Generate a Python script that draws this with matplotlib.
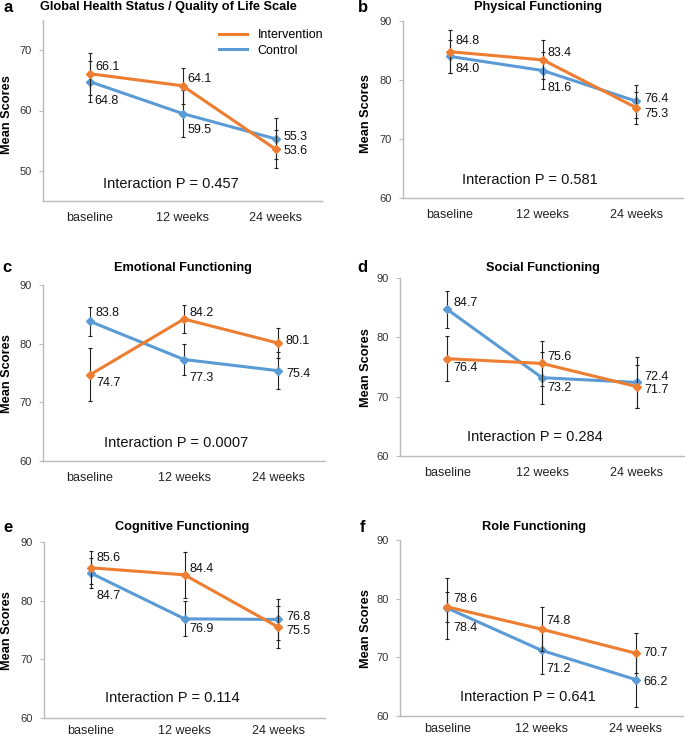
import matplotlib
matplotlib.use('Agg')
import matplotlib.pyplot as plt
from matplotlib.lines import Line2D

plt.rcParams['font.family'] = ['Liberation Sans', 'DejaVu Sans']

W, H = 685, 738

timepoints = ['baseline', '12 weeks', '24 weeks']
letters = ['a', 'b', 'c', 'd', 'e', 'f']
titles = ['Global Health Status / Quality of Life Scale', 'Physical Functioning',
          'Emotional Functioning', 'Social Functioning',
          'Cognitive Functioning', 'Role Functioning']

intervention_means = [[66.1, 64.1, 53.6], [84.8, 83.4, 75.3], [74.7, 84.2, 80.1],
                      [76.4, 75.6, 71.7], [85.6, 84.4, 75.5], [78.6, 74.8, 70.7]]
intervention_err = [[3.5, 3.0, 3.2], [3.6, 3.3, 2.7], [4.5, 2.4, 2.5],
                    [3.8, 3.8, 3.6], [2.8, 3.9, 3.6], [2.5, 3.8, 3.4]]
control_means = [[64.8, 59.5, 55.3], [84.0, 81.6, 76.4], [83.8, 77.3, 75.4],
                 [84.7, 73.2, 72.4], [84.7, 76.9, 76.8], [78.4, 71.2, 66.2]]
control_err = [[3.4, 3.9, 3.4], [2.8, 3.1, 2.8], [2.5, 2.7, 3.2],
               [3.1, 4.4, 4.3], [2.5, 3.0, 3.5], [5.2, 4.0, 4.6]]
p_values = ['0.457', '0.581', '0.0007', '0.284', '0.114', '0.641']

ORANGE = '#ED7D31'
BLUE = '#5B9BD5'

# axes boxes in pixels: left, top, right, bottom
boxes = [(43, 20, 322, 201), (403, 21, 683, 198),
         (43, 285, 325, 461), (400, 278, 684, 456),
         (44, 542, 325, 718), (400, 540, 683, 716)]
ylims = [(45, 75), (60, 90), (60, 90), (60, 90), (60, 90), (60, 90)]
yticks = [[50, 60, 70], [60, 70, 80, 90], [60, 70, 80, 90],
          [60, 70, 80, 90], [60, 70, 80, 90], [60, 70, 80, 90]]
# label offsets in pixels (dx, dy) for each point
int_off = [[(6, 7), (5, 7), (8, -2)], [(6, 11), (5, 7), (8, -6)],
           [(6, -8), (5, 6), (8, 2)], [(6, -9), (5, 6), (8, -3)],
           [(6, 10), (5, 6), (8, -4)], [(6, 8), (5, 8), (8, 0)]]
ctl_off = [[(5, -19), (5, -16), (8, 2)], [(6, -13), (5, -17), (8, 2)],
           [(6, 8), (5, -18), (8, -3)], [(6, 6), (5, -10), (8, 5)],
           [(6, -23), (5, -10), (8, 2)], [(6, -20), (5, -19), (8, -2)]]
p_pos = [(0.87, 47.8), (0.86, 63.1), (0.92, 63.1), (0.92, 63.2), (0.875, 63.4), (0.86, 63.3)]
letter_pos = [(4, 8), (358, 7), (2, 268), (357, 268), (3, 527), (360, 527)]
title_pos = [(168, 7), (538, 7), (183, 268), (543, 268), (182, 527), (534, 527)]
ylabel_pos = [(7, 115), (366, 114), (7, 374), (366, 368), (7, 631), (366, 629)]

fig = plt.figure(figsize=(W / 100, H / 100), dpi=100)
x = list(range(len(timepoints)))

for i in range(6):
    l, t, r, b = boxes[i]
    ax = fig.add_axes([l / W, 1 - b / H, (r - l) / W, (b - t) / H])
    ax.errorbar(x, control_means[i], yerr=control_err[i], color=BLUE, lw=2.2,
                marker='D', ms=4, ecolor='#222222', elinewidth=0.8, capsize=1.5,
                capthick=0.8, zorder=3)
    ax.errorbar(x, intervention_means[i], yerr=intervention_err[i], color=ORANGE, lw=2.2,
                marker='D', ms=4, ecolor='#222222', elinewidth=0.8, capsize=1.5,
                capthick=0.8, zorder=4)
    for j in x:
        ax.annotate(f'{intervention_means[i][j]:.1f}', (j, intervention_means[i][j]),
                    xytext=int_off[i][j], textcoords='offset pixels',
                    ha='left', va='center', fontsize=9, color='#111111')
        ax.annotate(f'{control_means[i][j]:.1f}', (j, control_means[i][j]),
                    xytext=ctl_off[i][j], textcoords='offset pixels',
                    ha='left', va='center', fontsize=9, color='#111111')
    ax.text(p_pos[i][0], p_pos[i][1], f'Interaction P = {p_values[i]}',
            ha='center', va='center', fontsize=10.5, color='#111111')
    ax.set_xlim(-0.5, 2.5)
    ax.set_ylim(*ylims[i])
    ax.set_yticks(yticks[i])
    ax.set_xticks(x)
    ax.set_xticklabels(timepoints, fontsize=9, color='#222222')
    ax.tick_params(axis='x', length=0, pad=8 if i < 4 else 5)
    ax.tick_params(axis='y', length=3, width=0.8, color='#BBBBBB', labelsize=8,
                   labelcolor='#333333', pad=5)
    for s in ['top', 'right']:
        ax.spines[s].set_visible(False)
    for s in ['left', 'bottom']:
        ax.spines[s].set_color('#BBBBBB')
        ax.spines[s].set_linewidth(1)

    fig.text(letter_pos[i][0] / W, 1 - letter_pos[i][1] / H, letters[i],
             fontsize=12, fontweight='bold', ha='left', va='center')
    fig.text(title_pos[i][0] / W, 1 - title_pos[i][1] / H, titles[i],
             fontsize=9.2, fontweight='bold', ha='center', va='center')
    fig.text(ylabel_pos[i][0] / W, 1 - ylabel_pos[i][1] / H, 'Mean Scores',
             fontsize=9.2, fontweight='bold', ha='center', va='center', rotation=90)

    if i == 0:
        handles = [Line2D([], [], color=ORANGE, lw=2.2), Line2D([], [], color=BLUE, lw=2.2)]
        ax.legend(handles, ['Intervention', 'Control'], loc='upper left',
                  bbox_to_anchor=(219 / W, 1 - 29 / H), bbox_transform=fig.transFigure,
                  frameon=False, fontsize=9, borderpad=0, borderaxespad=0,
                  handlelength=2.2, handletextpad=0.9, labelspacing=0.3)

fig.savefig('out.png', dpi=100)
